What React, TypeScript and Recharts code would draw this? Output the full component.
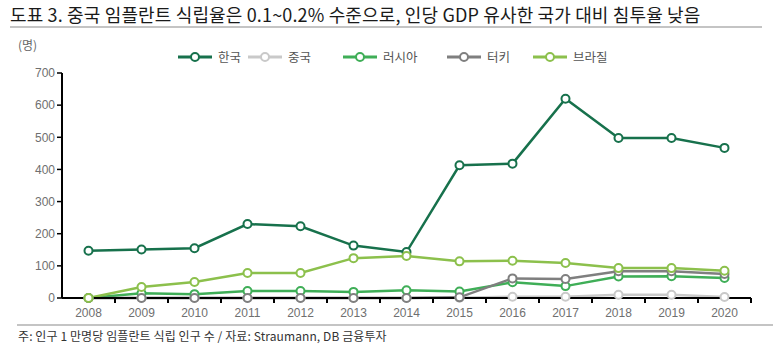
import React from "react";
import { LineChart, Line, XAxis, YAxis } from "recharts";

const years = ["2008", "2009", "2010", "2011", "2012", "2013", "2014", "2015", "2016", "2017", "2018", "2019", "2020"];
const korea = [147, 151, 155, 230, 223, 163, 143, 413, 418, 620, 498, 498, 467];
const china = [0, 0, 0, 0, 0, 0, 0, 1, 4, 4, 10, 10, 3];
const russia = [0, 15, 12, 22, 22, 19, 24, 20, 49, 37, 67, 68, 62];
const turkey = [0, 0, 0, 0, 0, 0, 0, 2, 61, 59, 83, 83, 75];
const brazil = [0, 34, 50, 78, 78, 124, 131, 114, 116, 109, 93, 93, 85];
const yTicks = [0, 100, 200, 300, 400, 500, 600, 700];

const series = [
  { key: "korea", name: "한국", color: "#17714c", values: korea },
  { key: "china", name: "중국", color: "#c9c9c9", values: china },
  { key: "russia", name: "러시아", color: "#3fae57", values: russia },
  { key: "turkey", name: "터키", color: "#7f7f7f", values: turkey },
  { key: "brazil", name: "브라질", color: "#8cc04c", values: brazil },
];

const data = years.map((year, i) => {
  const row: Record<string, string | number> = { year };
  series.forEach((s) => (row[s.key] = s.values[i]));
  return row;
});

const FONT = "'Noto Sans CJK KR', 'Noto Sans', sans-serif";
const AXIS_FONT = "'Liberation Sans', Arial, sans-serif";
const BAND = 53;

// label at the point, tick mark on the band boundary to its right
const YearTick = (props: any) => {
  const { x, y, payload } = props;
  return (
    <g>
      <line x1={x + BAND / 2} x2={x + BAND / 2} y1={y - 8} y2={y - 3} stroke="#000" strokeWidth={2} />
      <text x={x} y={y + 11} textAnchor="middle" fontSize={12} fill="#6f6f6f" fontFamily={AXIS_FONT}>
        {payload.value}
      </text>
    </g>
  );
};

function Legend() {
  const spots = [178, 248, 343, 447, 533];
  return (
    <div style={{ position: "absolute", left: 0, top: 47, height: 16, width: 773 }}>
      {series.map((s, i) => (
        <div
          key={s.key}
          style={{ position: "absolute", left: spots[i], top: 0, display: "flex", alignItems: "center" }}
        >
          <svg width={36} height={14}>
            <line x1={0} x2={34} y1={7} y2={7} stroke={s.color} strokeWidth={3} />
            <circle cx={17} cy={7} r={4} fill="#fff" stroke={s.color} strokeWidth={2} />
          </svg>
          <span style={{ fontSize: 12.5, color: "#555", marginLeft: 4, fontFamily: FONT }}>{s.name}</span>
        </div>
      ))}
    </div>
  );
}

export default function App() {
  return (
    <div
      style={{
        position: "absolute",
        left: 0,
        top: 0,
        width: 773,
        height: 352,
        background: "#fff",
        fontFamily: FONT,
      }}
    >
      <div
        style={{
          position: "absolute",
          left: 10,
          top: 1,
          fontSize: 18,
          color: "#1a1a1a",
          letterSpacing: 0.15,
          whiteSpace: "nowrap",
        }}
      >
        도표 3. 중국 임플란트 식립율은 0.1~0.2% 수준으로, 인당 GDP 유사한 국가 대비 침투율 낮음
      </div>
      <div style={{ position: "absolute", left: 10, top: 26, width: 752, height: 2, background: "#c4c4c4" }} />
      <div style={{ position: "absolute", left: 18, top: 36, fontSize: 12, color: "#666" }}>(명)</div>
      <Legend />

      <div style={{ position: "absolute", left: 0, top: 0 }}>
        <LineChart width={773} height={352} data={data} margin={{ top: 73, right: 22, bottom: 34, left: 22 }}>
          <XAxis
            dataKey="year"
            padding={{ left: BAND / 2, right: BAND / 2 }}
            axisLine={{ stroke: "#000", strokeWidth: 2 }}
            tickLine={false}
            tick={<YearTick />}
            interval={0}
            height={20}
          />
          <YAxis
            domain={[0, 700]}
            ticks={yTicks}
            width={40}
            axisLine={{ stroke: "#000", strokeWidth: 2 }}
            tickLine={{ stroke: "#000", strokeWidth: 1.5 }}
            tickSize={5}
            tick={{ fontSize: 12, fill: "#6f6f6f", fontFamily: AXIS_FONT }}
          />
          {series.map((s) => (
            <Line
              key={s.key}
              dataKey={s.key}
              name={s.name}
              stroke={s.color}
              strokeWidth={2.5}
              dot={{ r: 4, fill: "#fff", stroke: s.color, strokeWidth: 2 }}
              isAnimationActive={false}
            />
          ))}
        </LineChart>
      </div>

      <div style={{ position: "absolute", left: 17, top: 324, width: 756, height: 2, background: "#c4c4c4" }} />
      <div
        style={{
          position: "absolute",
          left: 18,
          top: 327,
          fontSize: 12,
          color: "#333",
          letterSpacing: 0.1,
          whiteSpace: "nowrap",
        }}
      >
        주: 인구 1 만명당 임플란트 식립 인구 수 / 자료: Straumann, DB 금융투자
      </div>
    </div>
  );
}
